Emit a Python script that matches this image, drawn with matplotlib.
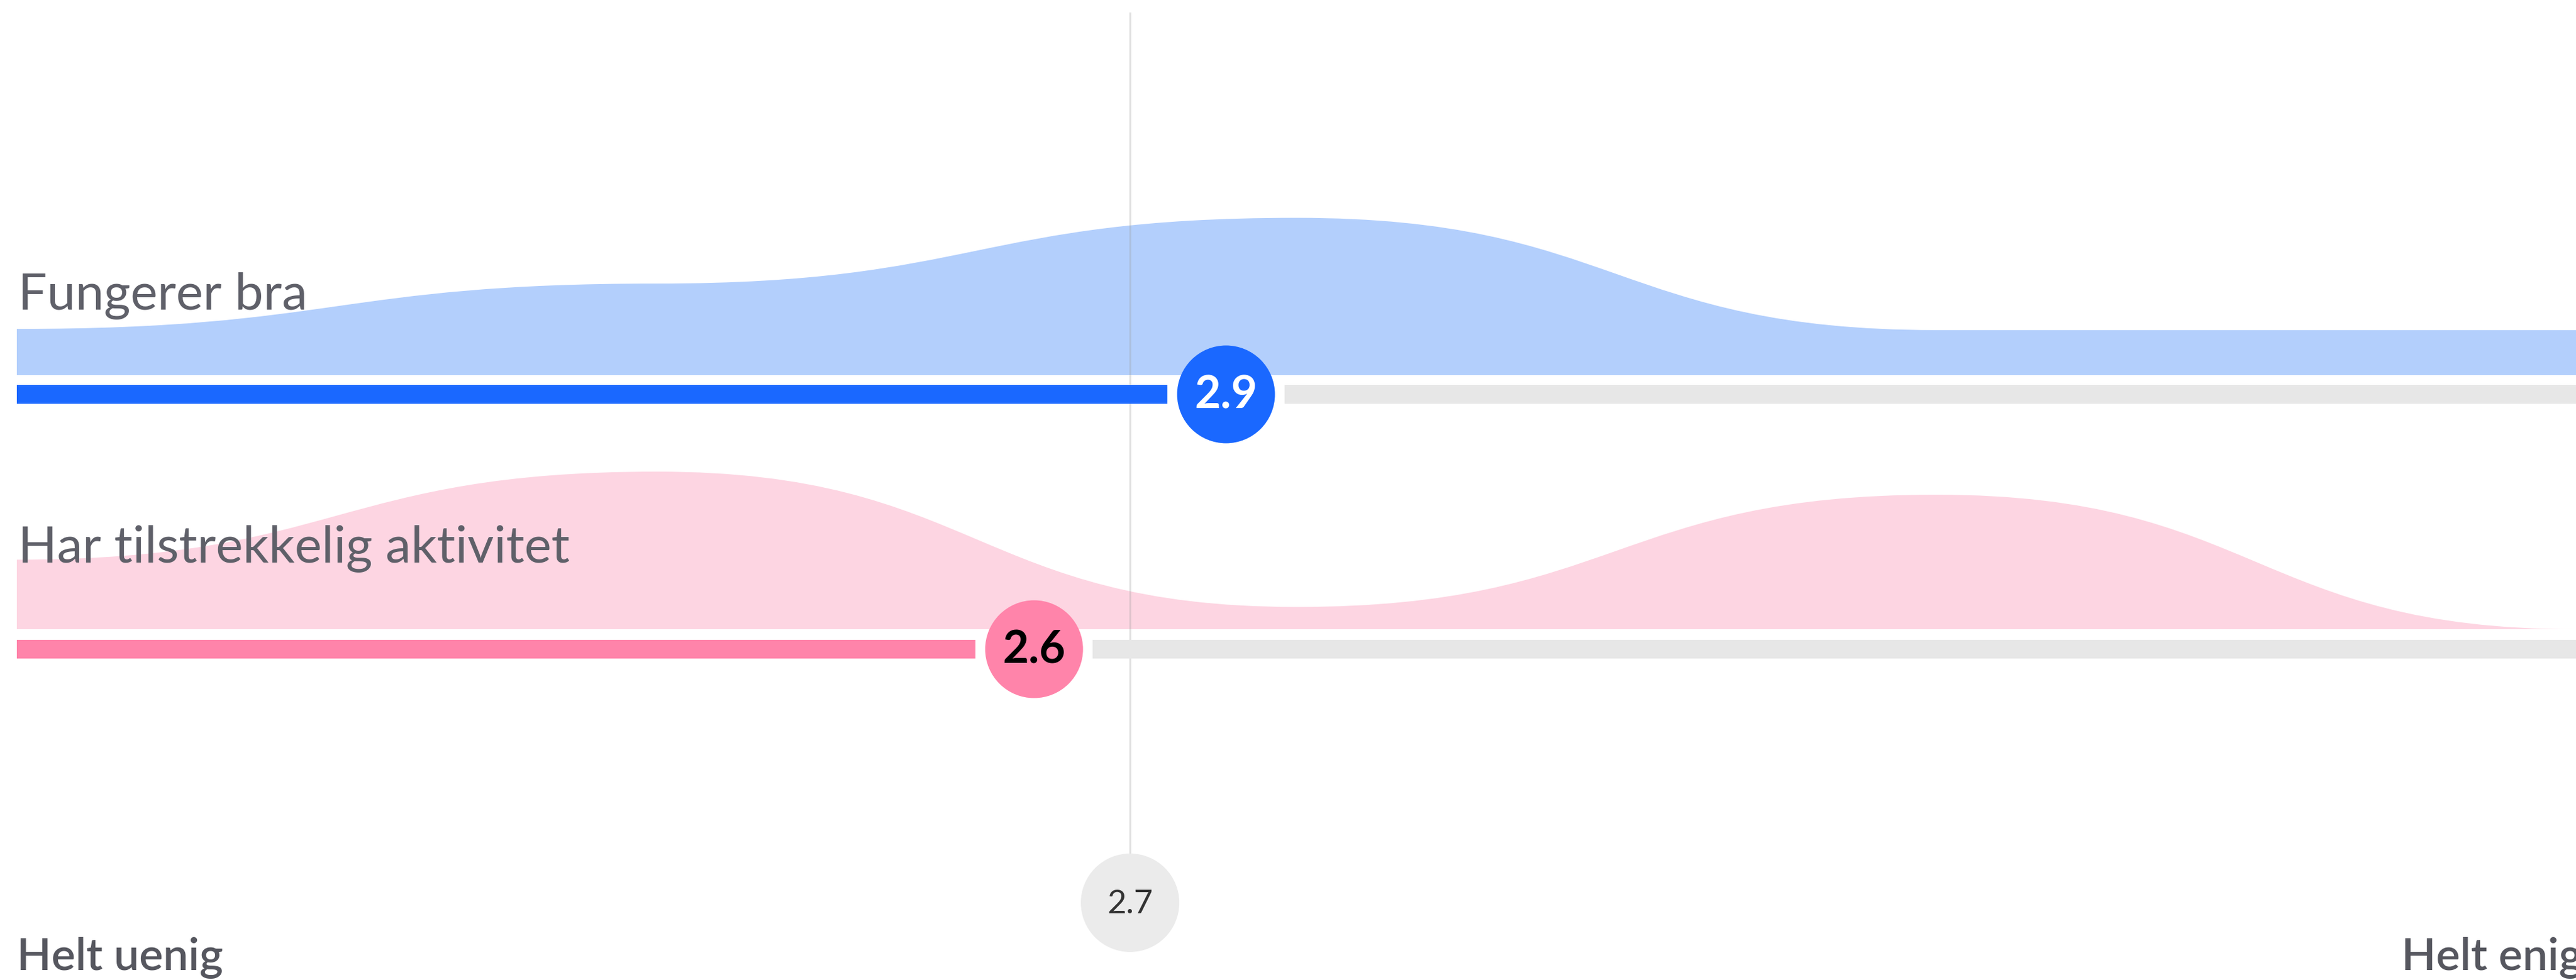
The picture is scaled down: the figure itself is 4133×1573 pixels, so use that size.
import matplotlib
matplotlib.use("Agg")
import matplotlib.pyplot as plt
from matplotlib.path import Path
from matplotlib.patches import PathPatch
import numpy as np

# ---------------- data ----------------
scale_points = [1, 2, 3, 4, 5]
row_labels = ["Fungerer bra", "Har tilstrekkelig aktivitet"]
shares_fungerer = [12.0, 23.8, 40.9, 11.7, 11.7]      # % of answers per scale point
shares_aktivitet = [18.1, 41.0, 5.8, 35.0, 0.0]
row_means = [2.89, 2.59]
mean_labels = ["2.9", "2.6"]
overall_mean = 2.74
overall_label = "2.7"
axis_labels = ["Helt uenig", "Helt enig"]

# ---------------- style ----------------
W, H, DPI = 4133, 1573, 100
X0_PX = 27
area_cols = ["#b3cffc", "#fdd5e2"]
bar_cols = ["#1a68ff", "#ff84aa"]
txt_cols = ["white", "black"]
track_col = "#e7e7e7"
px_per_pct = 6.17
area_base = [602, 1010]
bar_y = [633, 1042]
label_base = [497, 903]

fig = plt.figure(figsize=(W / DPI, H / DPI), dpi=DPI)
ax = fig.add_axes([0, 0, 1, 1])
ax.set_axis_off()
x_left = 1 - X0_PX / ((W - X0_PX) / 4.0)
ax.set_xlim(x_left, 5)
ax.set_ylim(H, 0)
px_per_unit = (W - X0_PX) / 4.0


def bump_path(xs, heights, base):
    verts = [(xs[0], base), (xs[0], base - heights[0])]
    codes = [Path.MOVETO, Path.LINETO]
    for i in range(len(xs) - 1):
        xa, xb = xs[i], xs[i + 1]
        ya, yb = base - heights[i], base - heights[i + 1]
        xm = (xa + xb) / 2
        verts += [(xm, ya), (xm, yb), (xb, yb)]
        codes += [Path.CURVE4] * 3
    verts += [(xs[-1], base), (xs[0], base)]
    codes += [Path.LINETO, Path.CLOSEPOLY]
    return Path(verts, codes)


label_font = dict(family=["Lato", "DejaVu Sans"])
for i, shares in enumerate([shares_fungerer, shares_aktivitet]):
    heights = [s * px_per_pct for s in shares]
    p = bump_path(scale_points, heights, area_base[i])
    ax.add_patch(PathPatch(p, facecolor=area_cols[i], edgecolor="none", zorder=1))

    m = row_means[i]
    gap = (78 + 16) / px_per_unit
    ax.plot([1, m - gap], [bar_y[i], bar_y[i]], color=bar_cols[i], lw=30 * 72 / DPI,
            solid_capstyle="butt", zorder=3)
    ax.plot([m + gap, 5], [bar_y[i], bar_y[i]], color=track_col, lw=30 * 72 / DPI,
            solid_capstyle="butt", zorder=3)
    d_pt = 157 * 72 / DPI
    ax.scatter([m], [bar_y[i]], s=d_pt ** 2, color=bar_cols[i], edgecolors="none", zorder=5)
    ax.text(m, bar_y[i] + 2, mean_labels[i], ha="center", va="center", color=txt_cols[i],
            fontsize=52, fontweight="bold", zorder=6, **label_font)

    ax.text(1.002, label_base[i], row_labels[i], ha="left", va="baseline", color="#5f6069",
            fontsize=59, fontweight="normal", zorder=4, **label_font)

# average line and marker
ax.plot([overall_mean, overall_mean], [21, 1370], color="#9a9a9a", lw=2.2, alpha=0.3, zorder=2)
ax.scatter([overall_mean], [1449], s=(158 * 72 / DPI) ** 2, color="#ebebeb", edgecolors="none", zorder=5)
ax.text(overall_mean, 1451, overall_label, ha="center", va="center", color="#333333",
        fontsize=38, zorder=6, **label_font)

# axis end labels
ax.text(1, 1557, axis_labels[0], ha="left", va="baseline", color="#56575f",
        fontsize=52, fontweight="semibold", **label_font)
ax.text(1 + (3853 - X0_PX) / px_per_unit, 1557, axis_labels[1], ha="left", va="baseline",
        color="#56575f", fontsize=52, fontweight="semibold", **label_font)

fig.savefig("out.png", dpi=DPI, facecolor="white")
